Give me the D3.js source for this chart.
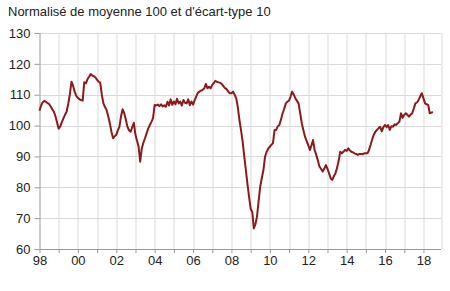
<!DOCTYPE html>
<html>
<head>
<meta charset="utf-8">
<script src="https://cdn.jsdelivr.net/npm/d3@7"></script>
<style>
  body { margin: 0; background: #fff; }
  text { font-family: "Liberation Sans", Arial, sans-serif; fill: #222; }
</style>
</head>
<body>
<div id="chart"></div>
<script>
// monthly index values, Jan 1998 onwards
let startYear = 1998;
let values = [
  104.8, 106.5, 107.5, 108, 107.7, 107.3, 107, 106.2, 105.3, 104.5, 103, 101,     // 1998
  99, 99.8, 101, 102.3, 103.5, 104.5, 107, 110, 114.2, 113, 111, 109.6,          // 1999
  109, 108.5, 108.3, 108.1, 114, 113.7, 115, 115.8, 116.7, 116.2, 116, 115.6,    // 2000
  114.8, 114.2, 113.9, 110, 107.2, 106, 105, 103, 100.7, 98, 95.9, 96.5,         // 2001
  97, 98.5, 99.6, 103, 105.3, 104, 102, 99.6, 98.5, 98, 99.5, 100.9,             // 2002
  97, 95, 93.2, 88.3, 92.6, 94.5, 95.9, 97.5, 99.1, 100.2, 101.2, 102.4,         // 2003
  106.7, 106.5, 106.8, 106.3, 106.9, 106.2, 106.6, 106.1, 107.7, 106.5, 108.5, 106.7, // 2004
  107.8, 106.9, 108.7, 107.2, 107.8, 106.5, 108.3, 107.4, 107.2, 108.5, 106.6, 107.8, // 2005
  106.8, 108.2, 109.4, 110.6, 111, 111.3, 111.6, 112, 113.5, 112.1, 112.6, 112.1,     // 2006
  113.2, 113.8, 114.5, 114.2, 114, 113.9, 113.5, 112.8, 112.1, 111.8, 111, 110.5,     // 2007
  110.5, 111, 110, 108.8, 106, 101.8, 98.5, 94.8, 90, 85.6, 81, 77,              // 2008
  73, 72, 66.7, 68, 70.5, 75.5, 80.2, 83, 85.6, 89.9, 91.5, 92.5,                // 2009
  93.2, 93.8, 94.3, 98.6, 98.6, 99.8, 100.2, 102, 104, 105.5, 107.2, 107.7,      // 2010
  108.1, 109.5, 111, 110, 108.8, 108, 107.2, 104, 100.7, 98.5, 96.4, 95,         // 2011
  93.7, 92.1, 93.5, 95.3, 92.1, 90.5, 88.8, 86.7, 86, 85.1, 86, 87.2,            // 2012
  86, 84.5, 83, 82.4, 83.5, 84.5, 86.2, 88.5, 91.5, 91, 91.5, 92.1,              // 2013
  91.8, 92.6, 92, 91.5, 91.3, 91, 90.8, 90.5, 90.8, 90.8, 90.7, 91,              // 2014
  91, 91, 92, 93.7, 95.5, 97, 98, 98.6, 99.2, 99.6, 98.1, 99.5,                  // 2015
  100.2, 99.5, 100.2, 98.6, 99.8, 99.6, 100.4, 100.2, 100.8, 101.3, 104, 102.5,  // 2016
  103.5, 104, 103.5, 102.9, 103.5, 104, 105.5, 107.2, 107.5, 108.3, 109.5, 110.5, // 2017
  108.8, 107.2, 106.9, 106.7, 104, 104.2, 104.4                                   // 2018
];

let yTicks = [60, 70, 80, 90, 100, 110, 120, 130];
let xTickYears = [1998, 1999, 2000, 2001, 2002, 2003, 2004, 2005, 2006, 2007, 2008,
  2009, 2010, 2011, 2012, 2013, 2014, 2015, 2016, 2017, 2018];
let xTickLabels = ["98", "", "00", "", "02", "", "04", "", "06", "", "08",
  "", "10", "", "12", "", "14", "", "16", "", "18"];
let title = "Normalisé de moyenne 100 et d'écart-type 10";

// svg size and plot box
let svgWidth = 450;
let svgHeight = 291;
let margin = { top: 33, right: 9, bottom: 42, left: 39.5 };
let width = svgWidth - margin.left - margin.right;
let height = svgHeight - margin.top - margin.bottom;

let data = values.map((v, i) => ({ date: new Date(startYear, i, 1), value: v }));

let svg = d3.select("#chart")
  .append("svg")
  .attr("width", svgWidth)
  .attr("height", svgHeight);

svg.append("text")
  .attr("x", 8)
  .attr("y", 16)
  .attr("font-size", 13)
  .text(title);

let g = svg.append("g")
  .attr("transform", `translate(${margin.left}, ${margin.top})`);

let x = d3.scaleTime()
  .domain([new Date(1998, 0, 1), new Date(2018, 11, 1)])
  .range([0, width]);

let y = d3.scaleLinear()
  .domain([60, 130])
  .range([height, 0]);

// grid
g.append("g").selectAll("line")
  .data(yTicks)
  .enter().append("line")
  .attr("x1", 0).attr("x2", width)
  .attr("y1", d => Math.round(y(d)) + 0.5)
  .attr("y2", d => Math.round(y(d)) + 0.5)
  .attr("stroke", "#d9d9d9");

g.append("g").selectAll("line")
  .data(xTickYears.slice(1))
  .enter().append("line")
  .attr("x1", d => Math.round(x(new Date(d, 0, 1))) + 0.5)
  .attr("x2", d => Math.round(x(new Date(d, 0, 1))) + 0.5)
  .attr("y1", 0).attr("y2", height)
  .attr("stroke", "#d9d9d9");

// right border
g.append("line")
  .attr("x1", Math.round(width) + 0.5).attr("x2", Math.round(width) + 0.5)
  .attr("y1", 0).attr("y2", height)
  .attr("stroke", "#d9d9d9");

// axes
let xAxis = d3.axisBottom(x)
  .tickValues(xTickYears.map(d => new Date(d, 0, 1)))
  .tickSize(4)
  .tickPadding(3)
  .tickFormat((d, i) => xTickLabels[i]);

let yAxis = d3.axisLeft(y)
  .tickValues(yTicks)
  .tickSize(5)
  .tickPadding(4);

let xg = g.append("g")
  .attr("transform", `translate(0, ${height})`)
  .call(xAxis);

let yg = g.append("g")
  .call(yAxis);

[xg, yg].forEach(a => {
  a.select(".domain").attr("stroke", "#999");
  a.selectAll(".tick line").attr("stroke", "#999");
  a.selectAll(".tick text")
    .attr("font-size", 13)
    .attr("font-family", "'Liberation Sans', Arial, sans-serif")
    .attr("fill", "#222");
});
xg.select(".domain").attr("d", `M0,0.5H${width}`);
yg.select(".domain").attr("d", `M0.5,0V${height}`);

// the series line
let line = d3.line()
  .x(d => x(d.date))
  .y(d => y(d.value));

g.append("path")
  .datum(data)
  .attr("fill", "none")
  .attr("stroke", "#8b1a1a")
  .attr("stroke-width", 2)
  .attr("stroke-linejoin", "round")
  .attr("d", line);
</script>
</body>
</html>
